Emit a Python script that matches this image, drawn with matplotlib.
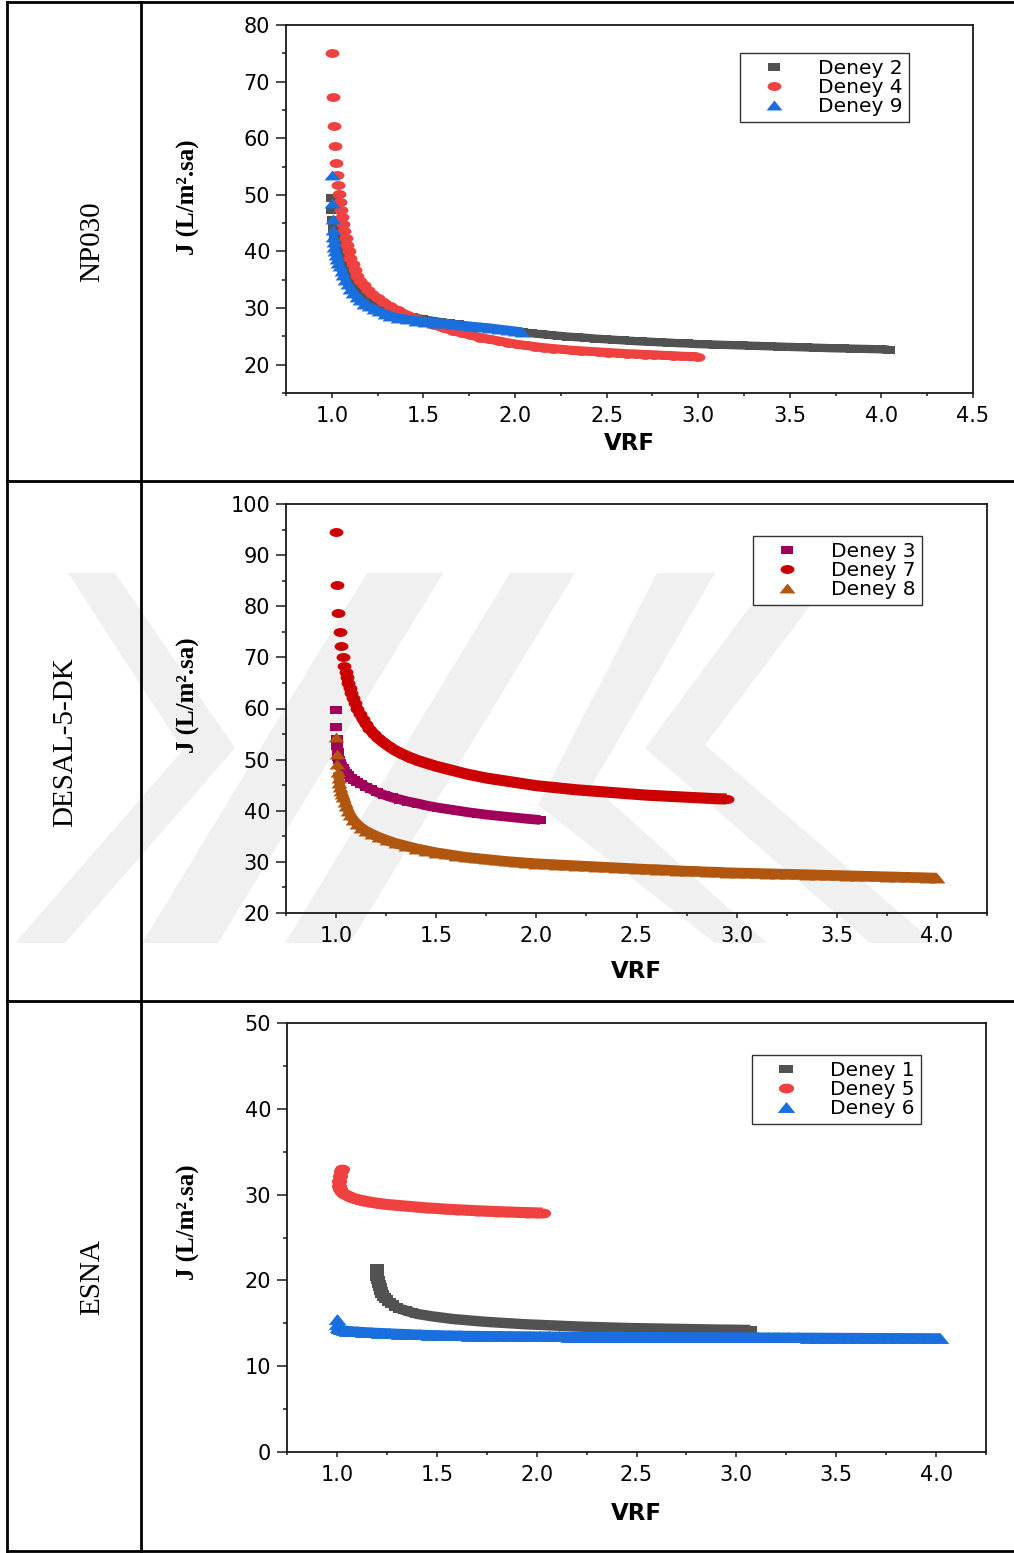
import matplotlib
matplotlib.use("Agg")
import matplotlib.pyplot as plt
from matplotlib.path import Path
from matplotlib.transforms import Affine2D
from matplotlib.patches import Polygon
from matplotlib.lines import Line2D
from matplotlib.ticker import MultipleLocator

plt.rcParams["font.family"] = ["DejaVu Sans"]

# ---- data: (VRF, J) ----
NP030_DENEY2 = [
    (1.000, 49.5), (1.002, 47.3), (1.006, 45.6), (1.011, 44.1), (1.017, 42.7), (1.024, 41.4),
    (1.032, 40.2), (1.041, 39.1), (1.051, 38.0), (1.062, 37.0), (1.075, 36.0), (1.089, 35.1),
    (1.104, 34.3), (1.120, 33.5), (1.137, 32.8), (1.156, 32.2), (1.176, 31.6), (1.198, 31.0),
    (1.224, 30.5), (1.252, 30.0), (1.282, 29.6), (1.315, 29.2), (1.350, 28.9), (1.39, 28.7),
    (1.44, 28.4), (1.49, 28.1), (1.54, 27.8), (1.59, 27.55), (1.64, 27.3), (1.69, 27.1),
    (1.74, 26.85), (1.79, 26.65), (1.84, 26.45), (1.89, 26.25), (1.94, 26.05), (1.99, 25.9),
    (2.04, 25.7), (2.09, 25.55), (2.14, 25.4), (2.19, 25.25), (2.24, 25.1), (2.29, 24.95),
    (2.34, 24.85), (2.39, 24.75), (2.44, 24.6), (2.49, 24.5), (2.54, 24.4), (2.59, 24.3),
    (2.64, 24.2), (2.69, 24.1), (2.74, 24.05), (2.79, 23.95), (2.84, 23.9), (2.89, 23.8),
    (2.94, 23.75), (2.99, 23.65), (3.04, 23.6), (3.09, 23.55), (3.14, 23.5), (3.19, 23.45),
    (3.24, 23.4), (3.29, 23.35), (3.34, 23.3), (3.39, 23.25), (3.44, 23.2), (3.49, 23.15),
    (3.54, 23.1), (3.59, 23.05), (3.64, 23.0), (3.69, 22.95), (3.74, 22.9), (3.79, 22.87),
    (3.84, 22.83), (3.89, 22.8), (3.94, 22.76), (3.99, 22.72), (4.04, 22.68),
]
NP030_DENEY4 = [
    (1.000, 75.0), (1.005, 67.2), (1.011, 62.2), (1.016, 58.6), (1.022, 55.7), (1.027, 53.5),
    (1.033, 51.7), (1.038, 50.1), (1.044, 48.8), (1.050, 47.3), (1.056, 46.0), (1.062, 44.8),
    (1.068, 43.6), (1.075, 42.4), (1.083, 41.2), (1.092, 40.0), (1.102, 38.9), (1.113, 37.8),
    (1.125, 36.7), (1.140, 35.6), (1.156, 34.7), (1.175, 34.0), (1.197, 33.2), (1.220, 32.5),
    (1.250, 31.8), (1.280, 31.1), (1.320, 30.3), (1.360, 29.6), (1.41, 28.8), (1.46, 28.1),
    (1.51, 27.5), (1.56, 27.0), (1.61, 26.5), (1.66, 26.0), (1.71, 25.6), (1.76, 25.2),
    (1.81, 24.8), (1.86, 24.5), (1.91, 24.2), (1.96, 23.9), (2.01, 23.6), (2.06, 23.4),
    (2.11, 23.2), (2.16, 23.0), (2.21, 22.85), (2.26, 22.7), (2.31, 22.55), (2.36, 22.45),
    (2.41, 22.35), (2.46, 22.25), (2.51, 22.15), (2.56, 22.05), (2.61, 21.95), (2.66, 21.9),
    (2.71, 21.8), (2.76, 21.75), (2.81, 21.65), (2.86, 21.6), (2.91, 21.5), (2.96, 21.45),
    (3.00, 21.4),
]
NP030_DENEY9 = [
    (1.000, 53.5), (1.001, 48.5), (1.004, 45.7), (1.006, 43.8), (1.008, 42.6), (1.011, 41.6),
    (1.014, 40.8), (1.018, 40.0), (1.023, 39.3), (1.029, 38.6), (1.036, 38.0), (1.044, 37.4),
    (1.053, 36.6), (1.063, 35.8), (1.074, 35.0), (1.087, 34.2), (1.101, 33.4), (1.117, 32.7),
    (1.135, 32.0), (1.155, 31.4), (1.177, 30.8), (1.201, 30.3), (1.228, 29.8), (1.257, 29.4),
    (1.288, 29.0), (1.32, 28.6), (1.36, 28.3), (1.41, 28.0), (1.46, 27.8), (1.51, 27.6),
    (1.56, 27.45), (1.61, 27.3), (1.66, 27.1), (1.71, 26.95), (1.76, 26.8), (1.81, 26.65),
    (1.86, 26.5), (1.91, 26.3), (1.96, 26.1), (2.00, 25.95), (2.04, 25.8),
]

DESAL_DENEY3 = [
    (1.000, 59.7), (1.002, 56.4), (1.004, 54.0), (1.006, 52.6), (1.009, 51.5), (1.012, 50.6),
    (1.016, 49.9), (1.020, 49.3), (1.026, 48.8), (1.033, 48.3), (1.041, 47.8), (1.050, 47.4),
    (1.061, 46.9), (1.074, 46.5), (1.089, 46.1), (1.106, 45.7), (1.126, 45.2), (1.149, 44.7),
    (1.175, 44.2), (1.205, 43.6), (1.24, 43.1), (1.28, 42.6), (1.32, 42.2), (1.36, 41.8),
    (1.41, 41.4), (1.46, 40.95), (1.51, 40.6), (1.56, 40.3), (1.61, 40.0), (1.66, 39.7),
    (1.71, 39.45), (1.76, 39.2), (1.81, 39.0), (1.86, 38.8), (1.91, 38.6), (1.96, 38.4),
    (2.02, 38.2),
]
DESAL_DENEY7 = [
    (1.000, 94.5), (1.005, 84.1), (1.012, 78.6), (1.018, 75.0), (1.025, 72.2), (1.033, 70.0),
    (1.042, 68.3), (1.048, 67.2), (1.054, 66.1), (1.061, 65.0), (1.068, 64.0), (1.076, 63.0),
    (1.085, 62.0), (1.095, 61.0), (1.106, 60.0), (1.118, 59.0), (1.132, 58.0), (1.148, 57.0),
    (1.166, 56.0), (1.187, 55.1), (1.21, 54.2), (1.235, 53.4), (1.263, 52.6), (1.295, 51.8),
    (1.33, 51.1), (1.37, 50.4), (1.41, 49.8), (1.45, 49.3), (1.50, 48.7), (1.55, 48.2),
    (1.60, 47.7), (1.65, 47.2), (1.70, 46.8), (1.75, 46.4), (1.80, 46.1), (1.85, 45.8),
    (1.90, 45.5), (1.95, 45.2), (2.00, 44.9), (2.05, 44.7), (2.10, 44.5), (2.15, 44.3),
    (2.20, 44.1), (2.25, 43.95), (2.30, 43.8), (2.35, 43.65), (2.40, 43.5), (2.45, 43.35),
    (2.50, 43.2), (2.55, 43.05), (2.60, 42.95), (2.65, 42.85), (2.70, 42.75), (2.75, 42.65),
    (2.80, 42.55), (2.85, 42.45), (2.90, 42.35), (2.95, 42.3),
]
DESAL_DENEY8 = [
    (1.000, 54.5), (1.003, 51.1), (1.006, 49.1), (1.010, 47.6), (1.013, 46.5), (1.017, 45.5),
    (1.021, 44.6), (1.026, 43.8), (1.031, 43.2), (1.037, 42.6), (1.044, 41.8), (1.052, 40.9),
    (1.061, 40.0), (1.072, 39.1), (1.087, 38.2), (1.105, 37.4), (1.125, 36.7), (1.150, 36.0),
    (1.18, 35.4), (1.215, 34.8), (1.255, 34.2), (1.30, 33.6), (1.35, 33.1), (1.40, 32.6),
    (1.45, 32.2), (1.50, 31.8), (1.55, 31.5), (1.60, 31.2), (1.65, 30.9), (1.70, 30.7),
    (1.75, 30.5), (1.80, 30.3), (1.85, 30.1), (1.90, 29.95), (1.95, 29.8), (2.00, 29.65),
    (2.05, 29.55), (2.10, 29.45), (2.15, 29.35), (2.20, 29.25), (2.25, 29.15), (2.30, 29.05),
    (2.35, 28.95), (2.40, 28.85), (2.45, 28.75), (2.50, 28.65), (2.55, 28.55), (2.60, 28.5),
    (2.65, 28.4), (2.70, 28.3), (2.75, 28.2), (2.80, 28.15), (2.85, 28.05), (2.90, 28.0),
    (2.95, 27.9), (3.00, 27.85), (3.05, 27.8), (3.10, 27.75), (3.15, 27.7), (3.20, 27.65),
    (3.25, 27.6), (3.30, 27.55), (3.35, 27.5), (3.40, 27.45), (3.45, 27.4), (3.50, 27.35),
    (3.55, 27.3), (3.60, 27.25), (3.65, 27.2), (3.70, 27.15), (3.75, 27.1), (3.80, 27.05),
    (3.85, 27.0), (3.90, 26.95), (3.95, 26.9), (4.00, 26.85),
]

ESNA_DENEY1 = [
    (1.200, 21.45), (1.200, 21.1), (1.201, 20.75), (1.203, 20.4), (1.206, 20.0), (1.210, 19.6),
    (1.215, 19.2), (1.221, 18.8), (1.228, 18.45), (1.237, 18.1), (1.248, 17.8), (1.261, 17.5),
    (1.276, 17.2), (1.294, 16.95), (1.315, 16.7), (1.34, 16.5), (1.37, 16.3), (1.40, 16.1),
    (1.44, 15.95), (1.48, 15.8), (1.53, 15.65), (1.58, 15.5), (1.63, 15.4), (1.68, 15.3),
    (1.73, 15.2), (1.78, 15.12), (1.83, 15.05), (1.88, 14.98), (1.93, 14.9), (1.98, 14.85),
    (2.03, 14.8), (2.08, 14.75), (2.13, 14.7), (2.18, 14.65), (2.23, 14.6), (2.28, 14.57),
    (2.33, 14.54), (2.38, 14.5), (2.43, 14.47), (2.48, 14.44), (2.53, 14.42), (2.58, 14.4),
    (2.63, 14.38), (2.68, 14.36), (2.73, 14.34), (2.78, 14.32), (2.83, 14.3), (2.88, 14.28),
    (2.93, 14.26), (2.98, 14.25), (3.03, 14.23), (3.07, 14.22),
]
ESNA_DENEY5 = [
    (1.025, 33.0), (1.018, 32.7), (1.013, 32.2), (1.011, 31.6), (1.012, 31.0), (1.016, 30.6),
    (1.024, 30.3), (1.035, 30.1), (1.050, 29.9), (1.065, 29.75), (1.080, 29.6), (1.10, 29.45),
    (1.13, 29.3), (1.16, 29.15), (1.20, 29.0), (1.25, 28.85), (1.30, 28.75), (1.35, 28.65),
    (1.40, 28.55), (1.45, 28.45), (1.50, 28.38), (1.55, 28.3), (1.60, 28.24), (1.65, 28.18),
    (1.70, 28.12), (1.75, 28.07), (1.80, 28.02), (1.85, 27.98), (1.90, 27.94), (1.95, 27.9),
    (2.00, 27.87), (2.03, 27.85),
]
ESNA_DENEY6 = [
    (1.000, 15.5), (1.002, 14.9), (1.006, 14.6), (1.012, 14.4), (1.020, 14.3), (1.035, 14.2),
    (1.050, 14.15), (1.070, 14.1), (1.10, 14.05), (1.13, 14.0), (1.17, 13.95), (1.21, 13.9),
    (1.26, 13.85), (1.31, 13.8), (1.36, 13.75), (1.41, 13.7), (1.46, 13.66), (1.51, 13.63),
    (1.56, 13.6), (1.61, 13.58), (1.66, 13.56), (1.71, 13.55), (1.76, 13.54), (1.81, 13.53),
    (1.86, 13.52), (1.91, 13.51), (1.96, 13.5), (2.01, 13.49), (2.06, 13.48), (2.11, 13.47),
    (2.16, 13.46), (2.21, 13.46), (2.26, 13.45), (2.31, 13.45), (2.36, 13.44), (2.41, 13.44),
    (2.46, 13.43), (2.51, 13.43), (2.56, 13.42), (2.61, 13.42), (2.66, 13.41), (2.71, 13.41),
    (2.76, 13.4), (2.81, 13.4), (2.86, 13.39), (2.91, 13.39), (2.96, 13.38), (3.01, 13.38),
    (3.06, 13.37), (3.11, 13.37), (3.16, 13.36), (3.21, 13.36), (3.26, 13.35), (3.31, 13.35),
    (3.36, 13.34), (3.41, 13.34), (3.46, 13.33), (3.51, 13.33), (3.56, 13.32), (3.61, 13.32),
    (3.66, 13.31), (3.71, 13.31), (3.76, 13.3), (3.81, 13.3), (3.86, 13.29), (3.91, 13.29),
    (3.96, 13.28), (4.02, 13.28),
]

ROW_LABELS = ["NP030", "DESAL-5-DK", "ESNA"]

# ---- figure / layout (pixel coordinates of the 1014x1553 page) ----
W, H = 1014, 1553
fig = plt.figure(figsize=(W / 100, H / 100), dpi=100)


def fx(px):
    return px / W


def fy(py):
    return 1 - py / H


# markers are stretched horizontally like in the original picture
ELLIPSE = Path.unit_circle().transformed(Affine2D().scale(1.0, 0.64))
RECT = Path([(-1, -0.68), (1, -0.68), (1, 0.68), (-1, 0.68), (-1, -0.68)], closed=True)
TRI = Path([(-1, -0.62), (1, -0.62), (0, 0.62), (-1, -0.62)], closed=True)

GRAY = "#525252"
RED = "#f04141"
BLUE = "#1a6fdf"
PURPLE = "#a0005a"
DARKRED = "#cc0000"
BROWN = "#b0560f"

# light watermark behind the middle row
WATERMARK = [
    [(68, 573), (115, 573), (235, 748), (65, 943), (15, 943), (183, 750)],
    [(367, 573), (443, 573), (218, 943), (142, 943)],
    [(510, 573), (575, 573), (350, 943), (285, 943)],
    [(657, 573), (715, 573), (592, 785), (767, 943), (715, 943), (538, 805)],
    [(775, 573), (835, 573), (705, 745), (935, 943), (870, 943), (645, 748)],
]
for poly in WATERMARK:
    fig.add_artist(Polygon([(fx(x), fy(y)) for x, y in poly], closed=True,
                           transform=fig.transFigure, fc="#f0f0f0", ec="none", zorder=-5))


def draw_panel(box, xlim, ylim, series, legend_anchor, xlabel_y, ylabel_y, ms_scale=1.0):
    l, t, r, b = box
    ax = fig.add_axes([fx(l), fy(b), (r - l) / W, (b - t) / H])
    ax.set_facecolor("none")
    for name, pts, color, marker, ms, band_lw, dense_from in series:
        xs = [p[0] for p in pts]
        ys = [p[1] for p in pts]
        # the measured points sit so close together that they merge into a band
        ax.plot(xs[dense_from:], ys[dense_from:], ls="-", lw=band_lw, color=color,
                solid_capstyle="butt", solid_joinstyle="round")
        ax.plot(xs, ys, ls="none", marker=marker, ms=ms * ms_scale, mew=0,
                color=color, label=name)
    ax.set_xlim(*xlim)
    ax.set_ylim(*ylim)
    ax.xaxis.set_major_locator(MultipleLocator(0.5))
    ax.xaxis.set_minor_locator(MultipleLocator(0.25))
    ax.yaxis.set_major_locator(MultipleLocator(10))
    ax.yaxis.set_minor_locator(MultipleLocator(5))
    ax.tick_params(which="both", direction="out", top=False, right=False,
                   width=1.1, color="#1a1a1a", labelsize=15)
    ax.tick_params(axis="y", which="major", length=7.5, pad=4)
    ax.tick_params(axis="y", which="minor", length=3)
    ax.tick_params(axis="x", which="major", length=3.5, pad=6)
    ax.tick_params(axis="x", which="minor", length=2.5)
    for sp in ax.spines.values():
        sp.set_linewidth(1.3)
        sp.set_color("#1a1a1a")

    ax.set_xlabel("VRF", fontsize=16.5, fontweight="bold", va="center")
    ax.xaxis.set_label_coords(0.5, (b - xlabel_y) / (b - t))
    ax.set_ylabel("J (L/m².sa)", fontsize=18, fontweight="bold",
                  family="Liberation Serif", va="center")
    ax.yaxis.set_label_coords((188 - l) / (r - l), (b - ylabel_y) / (b - t))

    ax_x = (legend_anchor[0] - l) / (r - l)
    ax_y = (b - legend_anchor[1]) / (b - t)
    leg = ax.legend(loc="upper right", bbox_to_anchor=(ax_x, ax_y), borderaxespad=0,
                    fancybox=False, framealpha=1, edgecolor="#333333", fontsize=14.5,
                    handlelength=2.8, handletextpad=0.8, borderpad=0.3,
                    labelspacing=0.0, numpoints=1)
    leg.get_frame().set_linewidth(1.0)
    return ax


draw_panel((286, 25, 973, 393), (0.75, 4.5), (15, 80),
           [("Deney 2", NP030_DENEY2, GRAY, RECT, 8.6, 6.0, 2),
            ("Deney 4", NP030_DENEY4, RED, ELLIPSE, 10, 6.5, 9),
            ("Deney 9", NP030_DENEY9, BLUE, TRI, 11.5, 6.5, 4)],
           (909, 53), 444, 197)

draw_panel((286, 504, 987, 913), (0.75, 4.25), (20, 100),
           [("Deney 3", DESAL_DENEY3, PURPLE, RECT, 8.6, 7.0, 2),
            ("Deney 7", DESAL_DENEY7, DARKRED, ELLIPSE, 10, 8.0, 7),
            ("Deney 8", DESAL_DENEY8, BROWN, TRI, 11.5, 7.5, 3)],
           (922, 536), 971, 695)

draw_panel((287, 1023, 986, 1452), (0.75, 4.25), (0, 50),
           [("Deney 1", ESNA_DENEY1, GRAY, RECT, 8.6, 7.5, 0),
            ("Deney 5", ESNA_DENEY5, RED, ELLIPSE, 10, 8.0, 0),
            ("Deney 6", ESNA_DENEY6, BLUE, TRI, 11.5, 7.0, 1)],
           (921, 1055), 1513, 1222, ms_scale=1.1)

# ---- table frame and row titles ----
for y in (2, 481, 1001, 1551):
    fig.add_artist(Line2D([fx(7), fx(W)], [fy(y), fy(y)], color="black", lw=2, zorder=5))
for x in (7, 141):
    fig.add_artist(Line2D([fx(x), fx(x)], [fy(2), fy(1551)], color="black", lw=2, zorder=5))

for label, (px, py) in zip(ROW_LABELS, [(92, 242), (65, 742), (92, 1277)]):
    fig.text(fx(px), fy(py), label, rotation=90, ha="center", va="center",
             family="Liberation Serif", fontsize=21)

fig.savefig("out.png", dpi=100, facecolor="white")
